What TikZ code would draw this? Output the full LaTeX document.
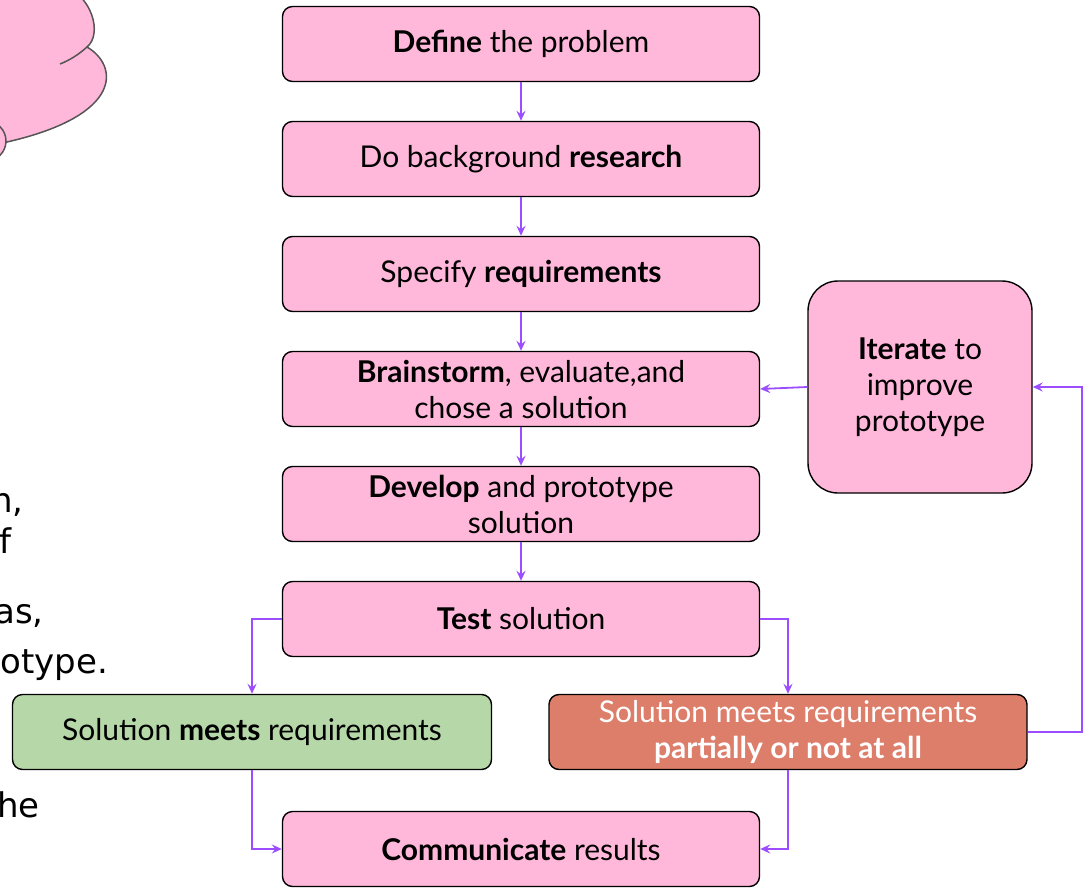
\documentclass[tikz,border=0pt]{standalone}
\usepackage{fontspec}
\setmainfont{Lato}
\newfontfamily\handfont{DejaVu Sans}
\usetikzlibrary{arrows.meta}
\definecolor{pinkc}{HTML}{FFB7DA}
\definecolor{greenc}{HTML}{B6D7A8}
\definecolor{redc}{HTML}{DD7E6B}
\definecolor{arrowc}{HTML}{9B4DFF}
\definecolor{cloudline}{HTML}{555555}
\tikzset{
  box/.style={draw=black, line width=1.4pt, rounded corners=10pt, fill=pinkc,
    minimum width=477pt, minimum height=75pt, align=center, inner sep=0pt,
    font=\fontsize{30}{36}\selectfont},
  arr/.style={draw=arrowc, line width=1.8pt, -{Stealth[length=10pt,width=9pt,inset=3.5pt]}},
  hand/.style={font=\handfont\fontsize{34}{40}\selectfont, inner sep=0pt, anchor=base east},
  cloud/.style={fill=pinkc, draw=cloudline, line width=1.5pt}
}
\begin{document}
\begin{tikzpicture}[x=1pt,y=-1pt]
\useasboundingbox (0,0) rectangle (1090,889);
\begin{scope}
\clip (0,0) rectangle (1090,889);
\path[cloud] (-20,-20) -- (55,-20) .. controls (95,-5) and (102,35) .. (87,47)
  .. controls (118,65) and (125,115) .. (7,142) -- (-20,142) -- cycle;
\draw[cloudline, line width=1.5pt] (87,47) .. controls (78,55) and (70,60) .. (60,64);
\path[cloud] (-14,141) circle (20);
\end{scope}
\node[hand] (h1) at (24,512) {n,};
\node[hand] (h2) at (12,553) {f};
\node[hand] (h3) at (44,623) {as,};
\node[hand] (h4) at (108,673) {otype.};
\node[hand] (h5) at (40,817) {he};

\node[box] (def) at (521,44) {\textbf{Define} the problem};
\node[box] (bg) at (521,159) {Do background \textbf{research}};
\node[box] (spec) at (521,274) {Specify \textbf{requirements}};
\node[box] (brain) at (521,389) {\textbf{Brainstorm}, evaluate,and\\chose a solution};
\node[box] (dev) at (521,504) {\textbf{Develop} and prototype\\solution};
\node[box] (test) at (521,619) {\textbf{Test} solution};
\node[box, minimum width=479pt, fill=greenc] (meet) at (252,732) {Solution \textbf{meets} requirements};
\node[box, minimum width=478pt, fill=redc, text=white] (part) at (788,732) {Solution meets requirements\\\textbf{partially or not at all}};
\node[box] (comm) at (521,849) {\textbf{Communicate} results};
\node[box, minimum width=224pt, minimum height=212pt, rounded corners=30pt] (iter) at (920,387) {\textbf{Iterate} to\\improve\\prototype};
\coordinate (loop) at (1082,732);

\draw[arr] (def) -- (bg);
\draw[arr] (bg) -- (spec);
\draw[arr] (spec) -- (brain);
\draw[arr] (brain) -- (dev);
\draw[arr] (dev) -- (test);
\draw[arr] (test.west) -| (meet.north);
\draw[arr] (test.east) -| (part.north);
\draw[arr] (meet.south) |- (comm.west);
\draw[arr] (part.south) |- (comm.east);
\draw[arr] (part.east) -- (loop) |- (iter.east);
\draw[arr] (iter.west) -- (brain.east);
\end{tikzpicture}
\end{document}
